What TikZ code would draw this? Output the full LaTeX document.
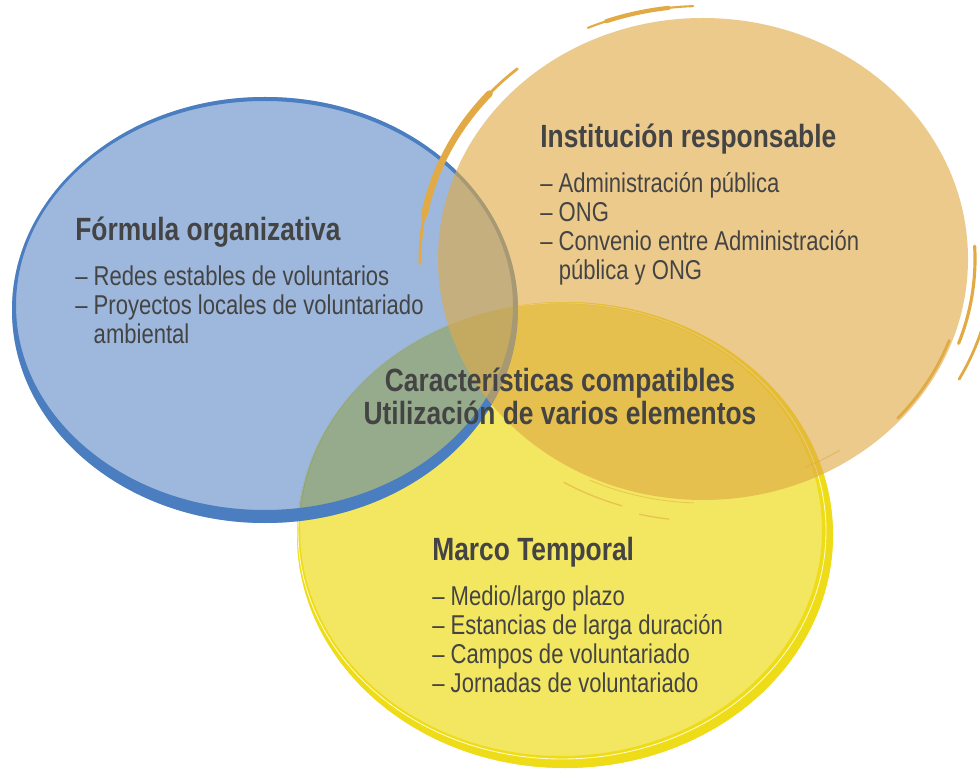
\documentclass[tikz,border=0pt]{standalone}
\usepackage{fontspec}
\setmainfont{Liberation Sans}[FakeStretch=0.81]
\newfontfamily\headfont{Liberation Sans}[FakeStretch=0.82]

\definecolor{txtgray}{HTML}{444444}
\definecolor{blueFill}{RGB}{59,113,185}
\definecolor{blueRing}{RGB}{74,126,192}
\definecolor{orangeFill}{RGB}{223,170,70}
\definecolor{orangeBrush}{RGB}{226,170,68}
\definecolor{yellowFill}{HTML}{F3E660}
\definecolor{yellowRing}{HTML}{EEDC18}

\begin{document}
\begin{tikzpicture}[
    x=0.02cm, y=-0.02cm,
    head/.style={font=\headfont\bfseries\fontsize{18.3}{19}\selectfont, text=txtgray, inner sep=0pt, anchor=base west},
    item/.style={font=\fontsize{15.5}{16.5}\selectfont, text=txtgray, inner sep=0pt, anchor=base west},
    brush/.style={draw=orangeBrush, line cap=round}
]
    \useasboundingbox (0,0) rectangle (980,773);

    % Marco temporal (amarillo)
    \fill[yellowFill] (565,535) ellipse [x radius=268, y radius=233];
    \fill[yellowRing, even odd rule] (565,535) ellipse [x radius=268, y radius=233]
        (561,530) ellipse [x radius=261, y radius=226];
    \draw[yellow!20!white, line width=0.5pt] (562,531) ellipse [x radius=264, y radius=228];

    % Formula organizativa (azul)
    \fill[blueFill, fill opacity=0.5] (265,310) ellipse [x radius=253, y radius=213];
    \fill[blueRing, even odd rule] (265,310) ellipse [x radius=253, y radius=213]
        (264.5,305.5) ellipse [x radius=248.5, y radius=204.5];

    % Institucion responsable (naranja)
    \fill[orangeFill, fill opacity=0.62] (703,259) ellipse [x radius=265, y radius=241];
    \coordinate (oc) at (703,259);
    \draw[brush, line width=1.6pt] (oc) ++(179:283 and 252) arc[start angle=179, end angle=229, x radius=283, y radius=252];
    \draw[brush, line width=3.8pt] (oc) ++(190:283 and 252) arc[start angle=190, end angle=221, x radius=283, y radius=252];
    \draw[brush, line width=1.2pt] (oc) ++(246:283 and 253) arc[start angle=246, end angle=268, x radius=283, y radius=253];
    \draw[brush, line width=2.4pt] (oc) ++(250:283 and 253) arc[start angle=250, end angle=263, x radius=283, y radius=253];
    \draw[brush, line width=1.8pt] (oc) ++(-3:272 and 247) arc[start angle=-3, end angle=20, x radius=272, y radius=247];
    \draw[brush, line width=1.6pt] (oc) ++(15:290 and 256) arc[start angle=15, end angle=28, x radius=290, y radius=256];
    \draw[brush, line width=1.6pt] (oc) ++(20:262 and 238) arc[start angle=20, end angle=42, x radius=262, y radius=238];
    \draw[brush, draw opacity=0.6, line width=0.7pt] (oc) ++(107:278 and 258) arc[start angle=107, end angle=120, x radius=278, y radius=258];
    \draw[brush, draw opacity=0.6, line width=0.7pt] (oc) ++(97:282 and 262) arc[start angle=97, end angle=103, x radius=282, y radius=262];
    \draw[brush, draw opacity=0.5, line width=0.5pt] (oc) ++(92:268 and 244) arc[start angle=92, end angle=115, x radius=268, y radius=244];
    \draw[brush, draw opacity=0.6, line width=0.6pt] (oc) ++(57:251 and 228) arc[start angle=57, end angle=66, x radius=251, y radius=228];

    % textos
    \node[head] (formula) at (75,241) {Fórmula organizativa};
    \node[item] (formula-a) at (75,286) {– Redes estables de voluntarios};
    \node[item] (formula-b) at (75,315) {– Proyectos locales de voluntariado};
    \node[item] (formula-c) at (75,344) {\hphantom{– }ambiental};

    \node[head] (institucion) at (540,148) {Institución responsable};
    \node[item] (institucion-a) at (540,193) {– Administración pública};
    \node[item] (institucion-b) at (540,222) {– ONG};
    \node[item] (institucion-c) at (540,251) {– Convenio entre Administración};
    \node[item] (institucion-d) at (540,280) {\hphantom{– }pública y ONG};

    \node[head, anchor=base] (compat) at (560,391) {Características compatibles};
    \node[head, anchor=base] (varios) at (560,424) {Utilización de varios elementos};

    \node[head] (marco) at (432,560) {Marco Temporal};
    \node[item] (marco-a) at (432,605) {– Medio/largo plazo};
    \node[item] (marco-b) at (432,634) {– Estancias de larga duración};
    \node[item] (marco-c) at (432,663) {– Campos de voluntariado};
    \node[item] (marco-d) at (432,692) {– Jornadas de voluntariado};
\end{tikzpicture}
\end{document}
